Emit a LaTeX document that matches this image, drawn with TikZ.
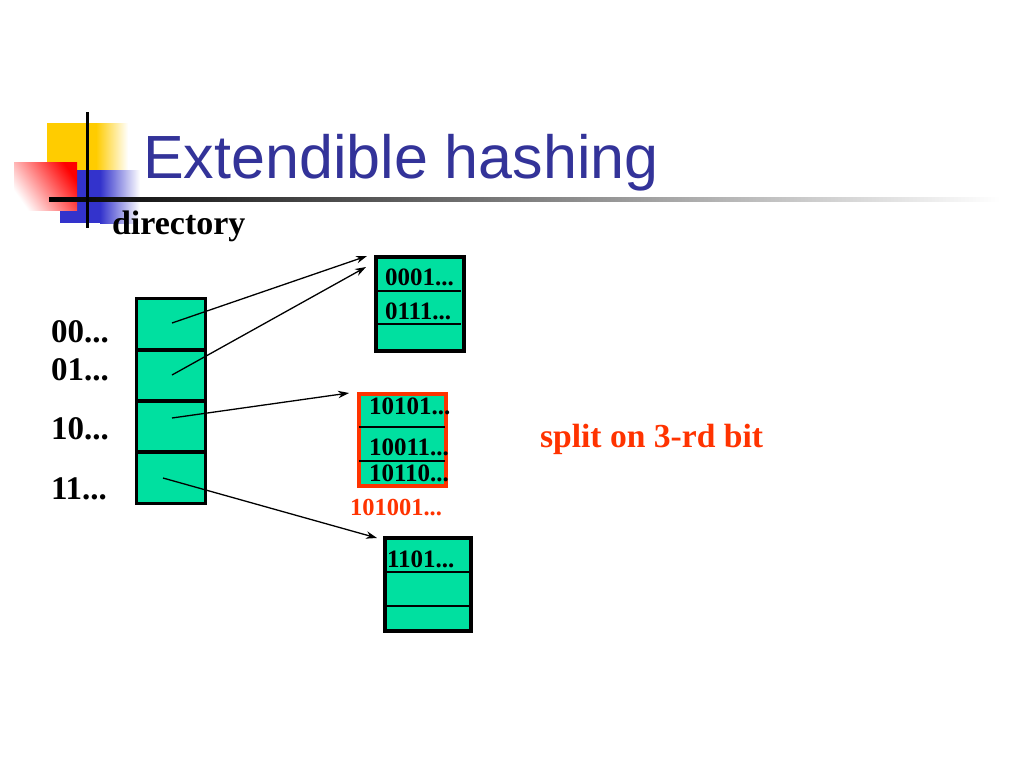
\documentclass[tikz,border=0pt]{standalone}
\usepackage{fontspec}
\setmainfont{Liberation Serif}
\newfontfamily\titlefont{Liberation Sans}
\usetikzlibrary{arrows.meta}
\definecolor{mint}{RGB}{0,224,160}
\definecolor{splitred}{RGB}{255,51,0}
\definecolor{titleblue}{RGB}{51,51,153}
\definecolor{logoyellow}{RGB}{255,204,0}
\definecolor{logoblue}{RGB}{51,51,204}
\begin{document}
\begin{tikzpicture}[x=1pt,y=-1pt,
  lbl/.style={anchor=base west, inner sep=0pt, outer sep=0pt, font=\bfseries\fontsize{33}{38}\selectfont},
  btxt/.style={anchor=base west, inner sep=0pt, outer sep=0pt, font=\bfseries\fontsize{25}{30}\selectfont},
  cell/.style={draw=black, line width=3.5pt, fill=mint, minimum width=69pt, minimum height=51.25pt, inner sep=0pt, outer sep=0pt},
  bucket/.style={draw=black, line width=4pt, fill=mint, inner sep=0pt, outer sep=0pt},
  sepline/.style={line width=1.5pt},
  ptr/.style={line width=1.3pt, -{Stealth[length=11pt,width=7.5pt]}}]
\useasboundingbox (0,0) rectangle (1024,768);
\fill[white] (0,0) rectangle (1024,768);
% logo
\fill[logoyellow] (47,123) rectangle (96,196);
\shade[left color=logoyellow, right color=white] (96,123) rectangle (128,196);
\fill[logoblue] (60,170) rectangle (100,223);
\shade[left color=logoblue, right color=white] (100,170) rectangle (140,223);
\shade[top color=red, bottom color=white, shading angle=-55] (14,162) rectangle (77,210);
\shade[left color=black, middle color=black!50, right color=white] (49,197) rectangle (1000,201);
\draw[line width=3pt] (87,112) -- (87,228);
% title
\node[anchor=base west, inner sep=0pt, text=titleblue, font=\titlefont\fontsize{61}{70}\selectfont] (title) at (143,178) {Extendible hashing};
\node[lbl, font=\bfseries\fontsize{34}{40}\selectfont] (dirlbl) at (112,234) {directory};
% directory
\node[cell] (c0) at (171,324.1) {};
\node[cell] (c1) at (171,375.4) {};
\node[cell] (c2) at (171,426.6) {};
\node[cell] (c3) at (171,477.9) {};
\node[lbl] (l0) at (51,342) {00...};
\node[lbl] (l1) at (51,380) {01...};
\node[lbl] (l2) at (51,439) {10...};
\node[lbl] (l3) at (51,499) {11...};
% buckets
\node[bucket, minimum width=88pt, minimum height=94pt] (b1) at (420,304) {};
\draw[sepline] (377,291) -- (461,291);
\draw[sepline] (377,324) -- (461,324);
\node[btxt] (b1t1) at (385,285) {0001...};
\node[btxt] (b1t2) at (385,319) {0111...};
\node[bucket, draw=splitred, minimum width=87pt, minimum height=92pt] (b2) at (402.5,440) {};
\draw[sepline] (359,427) -- (445,427);
\draw[sepline] (359,461) -- (445,461);
\node[btxt] (b2t1) at (369,414) {10101...};
\node[btxt] (b2t2) at (369,455) {10011...};
\node[btxt] (b2t3) at (369,481) {10110...};
\node[btxt, text=splitred, font=\bfseries\fontsize{24.5}{30}\selectfont] (newkey) at (350,515) {101001...};
\node[bucket, minimum width=86pt, minimum height=93pt] (b3) at (428,584.5) {};
\draw[sepline] (385,572) -- (470,572);
\draw[sepline] (385,606) -- (470,606);
\node[btxt] (b3t1) at (387,567) {1101...};
% note
\node[lbl, text=splitred, font=\bfseries\fontsize{33.6}{40}\selectfont] (note) at (540,447) {split on 3-rd bit};
% pointers
\coordinate (s0) at (172,323);
\coordinate (s1) at (172,375);
\coordinate (s2) at (172,418);
\coordinate (s3) at (163,478);
\coordinate (t0) at (367,256);
\coordinate (t1) at (366,267);
\coordinate (t2) at (349,393);
\coordinate (t3) at (377,538);
\draw[ptr] (s0) -- (t0);
\draw[ptr] (s1) -- (t1);
\draw[ptr] (s2) -- (t2);
\draw[ptr] (s3) -- (t3);
\end{tikzpicture}
\end{document}
